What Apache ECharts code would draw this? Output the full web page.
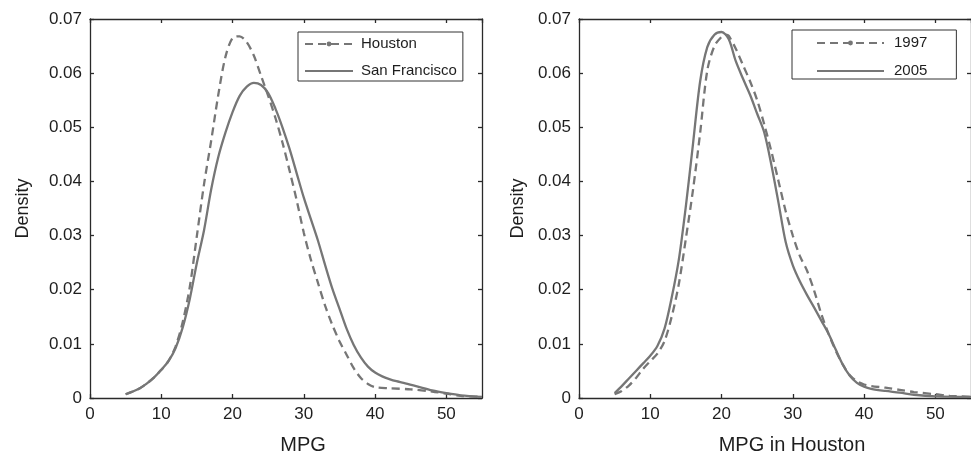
<!DOCTYPE html>
<html><head><meta charset="utf-8">
<script src="https://cdn.jsdelivr.net/npm/echarts@6/dist/echarts.min.js"></script>
<style>html,body{margin:0;padding:0;background:#fff;}#c{width:971px;height:460px;}</style>
</head><body><div id="c"></div>
<script>
// ---- data ----
const mpgTicks = [0, 10, 20, 30, 40, 50];
const densityTicks = [0, 0.01, 0.02, 0.03, 0.04, 0.05, 0.06, 0.07];

const houstonMPG = [5,6,7,8,9,10,11,12,13,14,15,16,17,18,19,20,21,22,23,24,25,26,27,28,29,30,31,32,33,34,35,36,37,38,39,40,42,45,48,50,52,55];
const houstonDensity = [0.0007,0.0012,0.0018,0.0027,0.0038,0.0052,0.0068,0.0095,0.0140,0.0205,0.0300,0.0395,0.0475,0.0560,0.0630,0.0665,0.0668,0.0657,0.0632,0.0595,0.0558,0.0518,0.0472,0.0420,0.0365,0.0305,0.0255,0.0212,0.0170,0.0135,0.0105,0.0080,0.0055,0.0037,0.0026,0.0020,0.0018,0.0016,0.0012,0.0008,0.0004,0.0002];

const sfMPG = [5,6,7,8,9,10,11,12,13,14,15,16,17,18,19,20,21,22,23,24,25,26,27,28,29,30,31,32,33,34,35,36,37,38,39,40,41,42,43,44,46,48,50,52,55];
const sfDensity = [0.0007,0.0012,0.0018,0.0027,0.0038,0.0052,0.0068,0.0092,0.0130,0.0183,0.0250,0.0310,0.0385,0.0445,0.0490,0.0528,0.0558,0.0575,0.0582,0.0578,0.0563,0.0535,0.0500,0.0460,0.0415,0.0370,0.0330,0.0290,0.0245,0.0202,0.0165,0.0128,0.0098,0.0075,0.0058,0.0047,0.0040,0.0035,0.0031,0.0028,0.0021,0.0014,0.0009,0.0005,0.0002];

const y1997MPG = [5,6,7,8,9,10,11,12,13,14,15,16,17,18,19,20,20.6,21,22,23,24,25,26,27,28,29,30,31,32,33,34,35,36,37,38,39,40,41,43,45,47,50,52,55];
const y1997Density = [0.0007,0.0013,0.0023,0.0037,0.0054,0.0068,0.0082,0.0105,0.0150,0.0210,0.0295,0.0385,0.0490,0.0605,0.0650,0.0667,0.0671,0.0669,0.0645,0.0615,0.0585,0.0550,0.0505,0.0455,0.0400,0.0345,0.0300,0.0262,0.0235,0.0198,0.0155,0.0119,0.0088,0.0062,0.0042,0.0031,0.0025,0.0022,0.0019,0.0015,0.0011,0.0007,0.0004,0.0002];

const y2005MPG = [5,6,7,8,9,10,11,12,13,14,15,16,17,18,19,20,21,22,23,24,25,26,27,28,29,30,31,32,33,34,35,36,37,38,39,40,41,43,45,47,50,55];
const y2005Density = [0.0009,0.0022,0.0036,0.0050,0.0064,0.0078,0.0096,0.0128,0.0185,0.0255,0.0355,0.0470,0.0585,0.0648,0.0671,0.0676,0.0663,0.0622,0.0590,0.0560,0.0525,0.0490,0.0430,0.0360,0.0288,0.0245,0.0215,0.0190,0.0167,0.0143,0.0119,0.0090,0.0062,0.0041,0.0028,0.0021,0.0017,0.0013,0.0010,0.0006,0.0003,0.0002];

const leftNames = ['Houston', 'San Francisco'];
const rightNames = ['1997', '2005'];

// ---- chart ----
const zip = (a, b) => a.map((v, i) => [v, b[i]]);
const FONT = '"Liberation Sans", Arial, Helvetica, sans-serif';
const AX = '#2a2a2a';
const CURVE = '#767676';
const xMin = mpgTicks[0], xMax = 55, xInt = mpgTicks[1] - mpgTicks[0];
const yMin = densityTicks[0], yMax = densityTicks[densityTicks.length - 1], yInt = densityTicks[1] - densityTicks[0];

function xAxisFor(grid, name, main) {
  return {
    type: 'value', gridIndex: grid, min: xMin, max: xMax, interval: xInt,
    position: main ? 'bottom' : 'top',
    axisLine: { show: true, onZero: false, lineStyle: { color: AX, width: 1.3 } },
    axisTick: { show: true, inside: true, length: 4, lineStyle: { color: AX, width: 1.3 } },
    axisLabel: main ? { show: true, margin: 8, fontSize: 17, fontFamily: FONT, color: '#1e1e1e', showMaxLabel: false } : { show: false },
    splitLine: { show: false },
    name: main ? name : '', nameLocation: 'middle', nameGap: 37,
    nameTextStyle: { fontSize: 20, fontFamily: FONT, color: '#1e1e1e', padding: [0, 0, 0, 34] }
  };
}
function yAxisFor(grid, main, gap) {
  return {
    type: 'value', gridIndex: grid, min: yMin, max: yMax, interval: yInt,
    position: main ? 'left' : 'right',
    axisLine: { show: true, onZero: false, lineStyle: { color: AX, width: 1.3 } },
    axisTick: { show: true, inside: true, length: 4, lineStyle: { color: AX, width: 1.3 } },
    axisLabel: main ? { show: true, margin: 8, fontSize: 17, fontFamily: FONT, color: '#1e1e1e',
      formatter: v => (Math.abs(v) < 1e-9 ? '0' : v.toFixed(2)) } : { show: false },
    splitLine: { show: false },
    name: main ? 'Density' : '', nameLocation: 'middle', nameGap: gap, nameRotate: 90,
    nameTextStyle: { fontSize: 18, fontFamily: FONT, color: '#1e1e1e' }
  };
}
function lineSeries(name, x, y, xi, yi, dashed) {
  return {
    type: 'line', name: name, xAxisIndex: xi, yAxisIndex: yi,
    data: zip(x, y), smooth: 0.3,
    symbol: dashed ? 'circle' : 'none', showSymbol: false, symbolSize: 5,
    lineStyle: { color: CURVE, width: 2.3, type: dashed ? [8, 5] : 'solid' },
    itemStyle: { color: CURVE },
    emphasis: { disabled: true }, animation: false
  };
}
const legendText = (padL) => ({ fontSize: 15, fontFamily: FONT, color: '#1e1e1e', lineHeight: 16, padding: [0, 0, 0, padL] });
const noDot = { color: 'rgba(0,0,0,0)', borderWidth: 0, opacity: 0 };

const option = {
  backgroundColor: '#fff',
  animation: false,
  grid: [
    { left: 90, top: 19, width: 392, height: 383 },
    { left: 579, top: 19, width: 395, height: 383 }
  ],
  xAxis: [
    xAxisFor(0, 'MPG', true), xAxisFor(0, '', false),
    xAxisFor(1, 'MPG in Houston', true), xAxisFor(1, '', false)
  ],
  yAxis: [
    yAxisFor(0, true, 58), yAxisFor(0, false, 0),
    yAxisFor(1, true, 52), yAxisFor(1, false, 0)
  ],
  legend: [
    { data: [{ name: leftNames[0] }, { name: leftNames[1], itemStyle: noDot }],
      orient: 'vertical', left: 298, top: 32, padding: [4, 6, 2, 6],
      itemGap: 11, itemWidth: 48, itemHeight: 6, borderColor: '#333', borderWidth: 1,
      backgroundColor: '#fff', textStyle: legendText(3), selectedMode: false },
    { data: [{ name: rightNames[0] }, { name: rightNames[1], itemStyle: noDot }],
      orient: 'vertical', left: 792, top: 30, padding: [5, 29, 0, 24],
      itemGap: 12, itemWidth: 67, itemHeight: 6, borderColor: '#333', borderWidth: 1,
      backgroundColor: '#fff', textStyle: legendText(5), selectedMode: false }
  ],
  series: [
    lineSeries(leftNames[0], houstonMPG, houstonDensity, 0, 0, true),
    lineSeries(leftNames[1], sfMPG, sfDensity, 0, 0, false),
    lineSeries(rightNames[0], y1997MPG, y1997Density, 2, 2, true),
    lineSeries(rightNames[1], y2005MPG, y2005Density, 2, 2, false)
  ]
};
const chart = echarts.init(document.getElementById('c'), null, { renderer: 'canvas' });
chart.setOption(option);
</script>
</body></html>
